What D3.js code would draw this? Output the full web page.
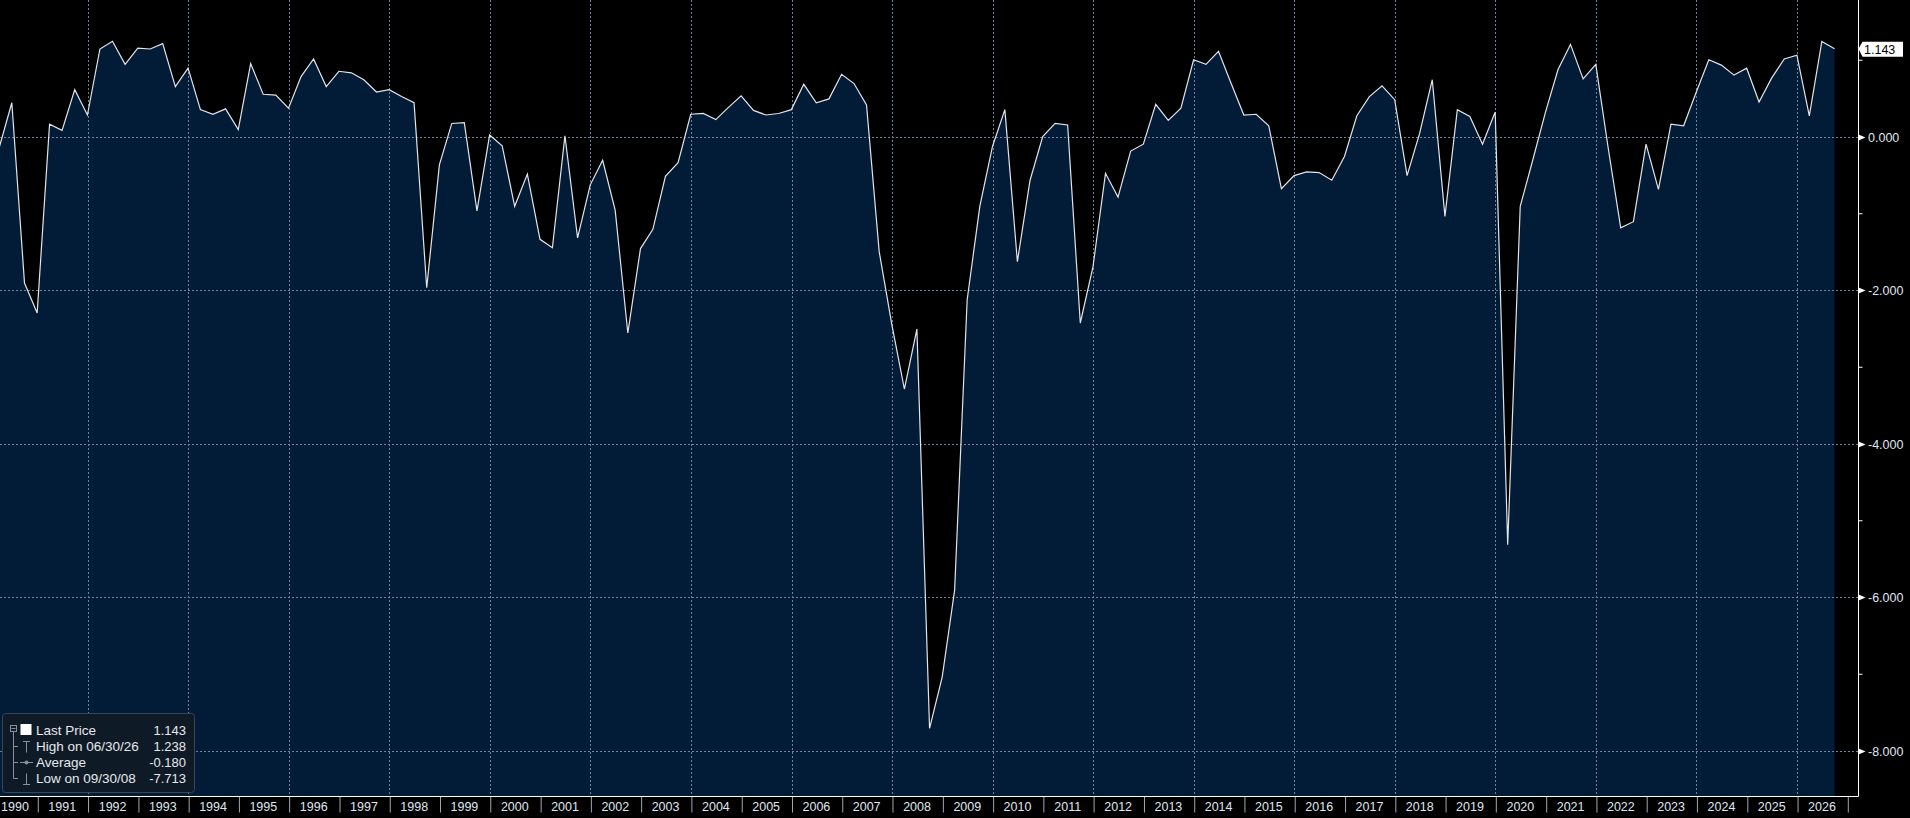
<!DOCTYPE html>
<html>
<head>
<meta charset="utf-8">
<script src="https://cdn.jsdelivr.net/npm/d3@7"></script>
<style>
html, body { margin: 0; padding: 0; background: #000; overflow: hidden; }
svg { display: block; }
</style>
</head>
<body>
<div id="chart"></div>
<script>
// quarterly values, one array per decade (quarter ends 03/31, 06/30, 09/30, 12/31)
const values1990s = [
    -0.14, 0.44, -1.91, -2.30,
    0.16, 0.08, 0.61, 0.28,
    1.14, 1.24, 0.94, 1.15,
    1.14, 1.21, 0.65, 0.89,
    0.35, 0.29, 0.36, 0.09,
    0.95, 0.55, 0.54, 0.37,
    0.78, 1.01, 0.65, 0.85,
    0.83, 0.74, 0.58, 0.61,
    0.52, 0.44, -1.97, -0.37,
    0.17, 0.18, -0.97, 0.02
]
const values2000s = [
    -0.12, -0.91, -0.49, -1.34,
    -1.45, 0.01, -1.32, -0.63,
    -0.31, -0.96, -2.56, -1.46,
    -1.21, -0.52, -0.34, 0.29,
    0.30, 0.22, 0.38, 0.53,
    0.34, 0.28, 0.30, 0.35,
    0.68, 0.44, 0.49, 0.81,
    0.69, 0.41, -1.50, -2.45,
    -3.29, -2.51, -7.713, -7.04,
    -5.91, -2.13, -0.91, -0.13
]
const values2010s = [
    0.35, -1.63, -0.57, 0.00,
    0.17, 0.15, -2.43, -1.70,
    -0.48, -0.79, -0.19, -0.10,
    0.42, 0.21, 0.37, 1.00,
    0.94, 1.11, 0.69, 0.28,
    0.29, 0.14, -0.68, -0.51,
    -0.46, -0.47, -0.57, -0.26,
    0.27, 0.52, 0.66, 0.48,
    -0.51, 0.04, 0.74, -1.04,
    0.35, 0.26, -0.10, 0.32
]
const values2020s = [
    -5.32, -0.91, -0.30, 0.32,
    0.87, 1.20, 0.75, 0.94,
    -0.15, -1.19, -1.11, -0.10,
    -0.69, 0.16, 0.14, 0.58,
    1.00, 0.93, 0.80, 0.89,
    0.45, 0.76, 1.01, 1.06,
    0.27, 1.238, 1.143
]
const firstYear = 1990
const lastYear = 2026
const yTicks = [0, -2, -4, -6, -8]
const yMinorTicks = [1, -1, -3, -5, -7]
const lastPrice = 1.143
const legendLabels = ["Last Price", "High on 06/30/26", "Average", "Low on 09/30/08"]
const legendValues = [1.143, 1.238, -0.180, -7.713]
const legendIcons = ["square", "high", "avg", "low"]

const gc = {
    width: 1910,
    height: 818,
    plot: { right: 1858.5, bottom: 796.5 },
    font: '"Liberation Sans", Arial, sans-serif',
    area: '#021c38',
    line: { color: '#e2e4e8', width: 1.2 },
    grid: { color: '#6f8198', dash: '2,2' },
    text: '#dfe7f2',
    tick: '#a0a6ae'
}

const fmt = d3.formatLocale({ decimal: ".", thousands: ",", grouping: [3], currency: ["", ""], minus: "-" }).format(".3f")

function buildSeries() {
    const all = values1990s.concat(values2000s, values2010s, values2020s)
    return all.map((v, i) => {
        const year = firstYear + Math.floor(i / 4)
        const q = i % 4 + 1
        return { date: new Date(year, q * 3, 0), value: v }
    })
}

function drawGrid(parent, gc, x, y) {
    const g = parent.append('g')
    g.selectAll('line.h').data(yTicks).join('line')
        .attr('x1', 0).attr('x2', gc.plot.right)
        .attr('y1', d => Math.round(y(d)) + 0.5).attr('y2', d => Math.round(y(d)) + 0.5)
        .style('stroke', gc.grid.color).style('stroke-dasharray', gc.grid.dash)
    const evenYears = d3.range(firstYear + 2, lastYear + 2, 2)
    g.selectAll('line.v').data(evenYears).join('line')
        .attr('x1', d => Math.round(x(new Date(d, 0, 1))) + 0.5)
        .attr('x2', d => Math.round(x(new Date(d, 0, 1))) + 0.5)
        .attr('y1', 0).attr('y2', gc.plot.bottom)
        .style('stroke', gc.grid.color).style('stroke-dasharray', gc.grid.dash)
}

function drawBottomAxis(parent, gc, x) {
    const bounds = d3.range(firstYear + 1, lastYear + 2).map(d => new Date(d, 0, 1))
    const axis = parent.append('g')
        .attr('transform', `translate(0,${gc.plot.bottom})`)
        .call(d3.axisBottom(x).tickValues(bounds).tickSize(16).tickFormat(''))
    axis.select('.domain').remove()
    axis.selectAll('.tick line').style('stroke', gc.tick).attr('transform', 'translate(0.5,0)')

    parent.append('line')
        .attr('x1', 0).attr('x2', gc.plot.right)
        .attr('y1', gc.plot.bottom).attr('y2', gc.plot.bottom)
        .style('stroke', '#ffffff')

    parent.append('g').selectAll('text').data(d3.range(firstYear, lastYear + 1)).join('text')
        .attr('x', d => Math.max(15, x(new Date(d, 6, 1))))
        .attr('y', 811)
        .attr('text-anchor', 'middle')
        .style('font-family', gc.font).style('font-size', '12.5px')
        .style('fill', gc.text)
        .text(d => d)
}

function drawRightAxis(parent, gc, y) {
    parent.append('line')
        .attr('x1', gc.plot.right).attr('x2', gc.plot.right)
        .attr('y1', 0).attr('y2', gc.plot.bottom)
        .style('stroke', '#ffffff')

    const minor = parent.append('g')
        .attr('transform', `translate(${gc.plot.right},0)`)
        .call(d3.axisRight(y).tickValues(yMinorTicks).tickSize(4).tickFormat(''))
    minor.select('.domain').remove()
    minor.selectAll('.tick line').style('stroke', '#ffffff')

    const g = parent.append('g')
    yTicks.forEach(t => {
        const ty = Math.round(y(t)) + 0.5
        g.append('path')
            .attr('d', `M${gc.plot.right},${ty - 3}L${gc.plot.right + 7},${ty}L${gc.plot.right},${ty + 3}Z`)
            .style('fill', '#ffffff')
        g.append('text')
            .attr('x', 1868).attr('y', ty)
            .attr('dy', '0.35em')
            .style('font-family', gc.font).style('font-size', '12.5px')
            .style('fill', gc.text)
            .text(fmt(t))
    })

    const ly = y(lastPrice)
    g.append('path')
        .attr('d', `M${gc.plot.right},${ly}L${gc.plot.right + 4},${ly - 7}L1903,${ly - 7}L1903,${ly + 8}L${gc.plot.right + 4},${ly + 8}Z`)
        .style('fill', '#ffffff')
    g.append('text')
        .attr('x', 1864).attr('y', ly)
        .attr('dy', '0.38em')
        .style('font-family', gc.font).style('font-size', '12.5px')
        .style('fill', '#000000')
        .text(fmt(lastPrice))
}

function drawLegend(parent, gc) {
    const g = parent.append('g')
    g.append('rect')
        .attr('x', 2.5).attr('y', 713.5)
        .attr('width', 192).attr('height', 79)
        .attr('rx', 3)
        .style('fill', '#0f1a27')
        .style('stroke', '#3a4452')

    const rowY = [730, 746, 762, 778]
    const stroke = '#8a8f96'

    // tree lines
    g.append('rect').attr('x', 10.5).attr('y', 725.5).attr('width', 6).attr('height', 6)
        .style('fill', 'none').style('stroke', stroke)
    g.append('line').attr('x1', 11.5).attr('x2', 15.5).attr('y1', 728.5).attr('y2', 728.5).style('stroke', stroke)
    g.append('line').attr('x1', 13.5).attr('x2', 13.5).attr('y1', 731.5).attr('y2', rowY[3] + 0.5).style('stroke', stroke)
    rowY.slice(1).forEach(ry => {
        g.append('line').attr('x1', 13.5).attr('x2', 18).attr('y1', ry + 0.5).attr('y2', ry + 0.5).style('stroke', stroke)
    })

    legendIcons.forEach((icon, i) => {
        const cy = rowY[i] + 0.5
        if (icon === 'square') {
            g.append('rect').attr('x', 20.5).attr('y', cy - 6.5).attr('width', 11).attr('height', 11).style('fill', '#ffffff')
        } else if (icon === 'high') {
            g.append('path').attr('d', `M23,${cy - 5}H30M26.5,${cy - 5}V${cy + 6}`).style('stroke', stroke).style('fill', 'none')
        } else if (icon === 'avg') {
            g.append('line').attr('x1', 20).attr('x2', 33).attr('y1', cy).attr('y2', cy).style('stroke', stroke)
            g.append('circle').attr('cx', 26.5).attr('cy', cy).attr('r', 2).style('fill', stroke)
        } else {
            g.append('path').attr('d', `M23,${cy + 6}H30M26.5,${cy + 6}V${cy - 5}`).style('stroke', stroke).style('fill', 'none')
        }
    })

    legendLabels.forEach((label, i) => {
        g.append('text')
            .attr('x', 36).attr('y', rowY[i])
            .attr('dy', '0.36em')
            .style('font-family', gc.font).style('font-size', '13.5px')
            .style('fill', '#e6e8eb')
            .text(label)
        g.append('text')
            .attr('x', 186).attr('y', rowY[i])
            .attr('dy', '0.36em')
            .attr('text-anchor', 'end')
            .style('font-family', gc.font).style('font-size', '13px')
            .style('fill', '#e6e8eb')
            .text(fmt(legendValues[i]))
    })
}

function chart(node) {
    const data = buildSeries()

    const x = d3.scaleTime()
        .domain([new Date(1991, 0, 1), new Date(2027, 0, 1)])
        .range([37.3, 1847.3])
    const y = d3.scaleLinear()
        .domain([0, -8])
        .range([136.5, 750.5])

    const svg = d3.select(node).append('svg')
        .attr('width', gc.width)
        .attr('height', gc.height)
        .style('background', '#000')

    svg.append('clipPath').attr('id', 'plot-clip')
        .append('rect').attr('x', 0).attr('y', 0)
        .attr('width', gc.plot.right).attr('height', gc.plot.bottom)

    const plot = svg.append('g').attr('clip-path', 'url(#plot-clip)')

    plot.append('path')
        .datum(data)
        .attr('d', d3.area().x(d => x(d.date)).y0(gc.plot.bottom).y1(d => y(d.value)))
        .style('fill', gc.area)

    drawGrid(plot, gc, x, y)

    plot.append('path')
        .datum(data)
        .attr('d', d3.line().x(d => x(d.date)).y(d => y(d.value)))
        .style('fill', 'none')
        .style('stroke', gc.line.color)
        .style('stroke-width', gc.line.width)
        .style('stroke-linejoin', 'miter')

    drawBottomAxis(svg, gc, x)
    drawRightAxis(svg, gc, y)
    drawLegend(svg, gc)
}

chart(document.getElementById('chart'))
</script>
</body>
</html>
